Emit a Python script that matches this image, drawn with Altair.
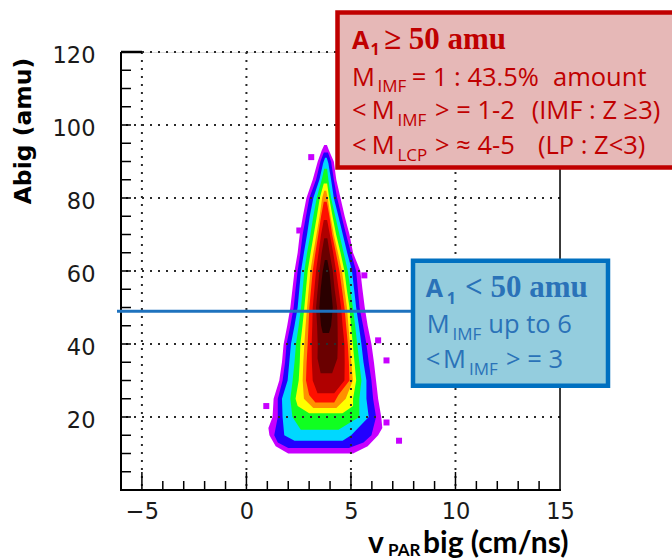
import altair as alt
import pandas as pd

# ---------------- data ----------------
X_DOMAIN = [-6, 15]
Y_DOMAIN = [0, 120]
X_TICK_LABELS = [-5, 0, 5, 10, 15]
Y_TICK_LABELS = [20, 40, 60, 80, 100, 120]
X_GRID = [-5, 0, 5, 10]
Y_GRID = [20, 40, 60, 80, 100, 120]
X_MAJOR_TICKS = [-5, 0, 5, 10]
X_MINOR_TICKS = [-4, -3, -2, -1, 1, 2, 3, 4, 6, 7, 8, 9, 11, 12, 13, 14]
Y_TICKS = [5, 10, 15, 20, 25, 30, 35, 40, 45, 50, 55, 60, 65, 70, 75, 80, 85, 90, 95, 100, 105, 110, 115]
CUT_A = 49

# density contour bands: (Abig, v_left, v_right), outermost first
BAND_MAGENTA = [(10, 2.0, 5.1), (12, 1.4, 5.8), (15, 1.1, 6.3), (17, 1.05, 6.5), (20, 1.25, 6.45),
                (25, 1.3, 6.3), (30, 1.57, 6.2), (35, 1.7, 6.1), (40, 1.78, 5.98), (45, 1.95, 5.8),
                (50, 2.1, 5.66), (55, 2.2, 5.55), (60, 2.3, 5.45), (65, 2.45, 5.1), (70, 2.55, 4.93),
                (75, 2.7, 4.7), (80, 2.87, 4.5), (85, 3.17, 4.3), (90, 3.41, 4.18), (93, 3.6, 3.95),
                (94.5, 3.72, 3.85)]
BAND_BLUE = [(11.5, 2.0, 4.9), (13, 1.5, 5.6), (15, 1.33, 5.98), (20, 1.5, 6.2), (25, 1.5, 6.06),
             (30, 1.73, 5.98), (35, 1.85, 5.85), (40, 1.92, 5.74), (45, 2.1, 5.58), (50, 2.26, 5.41),
             (55, 2.35, 5.33), (60, 2.45, 5.25), (65, 2.58, 5.0), (70, 2.69, 4.77), (75, 2.85, 4.55),
             (80, 3.01, 4.34), (85, 3.33, 4.18), (90, 3.54, 4.05), (92.5, 3.7, 3.9)]
BAND_CYAN = [(13.5, 2.3, 4.6), (15, 1.81, 5.01), (20, 1.73, 5.85), (25, 1.7, 5.74), (30, 1.97, 5.74),
             (35, 2.05, 5.6), (40, 2.13, 5.5), (45, 2.3, 5.38), (50, 2.45, 5.25), (55, 2.53, 5.15),
             (60, 2.61, 5.05), (65, 2.75, 4.82), (70, 2.9, 4.61), (75, 3.03, 4.4), (80, 3.2, 4.18),
             (85, 3.49, 4.05), (89.5, 3.67, 3.92), (91, 3.76, 3.84)]
BAND_GREEN = [(16.5, 2.6, 4.4), (20, 2.2, 5.4), (25, 2.1, 5.4), (30, 2.21, 5.5), (35, 2.3, 5.4),
              (40, 2.37, 5.3), (45, 2.5, 5.2), (50, 2.61, 5.09), (55, 2.69, 4.97), (60, 2.77, 4.85),
              (65, 2.9, 4.65), (70, 3.06, 4.45), (75, 3.2, 4.25), (80, 3.36, 4.05), (85, 3.6, 3.92),
              (88, 3.72, 3.86)]
BAND_YELLOW = [(21, 3.0, 4.6), (23, 2.45, 5.1), (25, 2.35, 5.1), (30, 2.5, 5.25), (35, 2.55, 5.17),
               (40, 2.58, 5.09), (45, 2.68, 5.0), (50, 2.77, 4.93), (55, 2.85, 4.8), (60, 2.93, 4.69),
               (65, 3.07, 4.5), (70, 3.22, 4.29), (75, 3.37, 4.12), (80, 3.51, 3.96), (84, 3.7, 3.86)]
BAND_ORANGE = [(22.5, 3.2, 4.3), (25, 2.75, 4.75), (30, 2.69, 5.09), (35, 2.72, 5.02), (40, 2.77, 4.95),
               (45, 2.83, 4.88), (50, 2.9, 4.81), (55, 2.98, 4.69), (60, 3.06, 4.57), (65, 3.2, 4.38),
               (70, 3.35, 4.18), (75, 3.5, 4.02), (80, 3.62, 3.89), (82, 3.72, 3.82)]
BAND_RED = [(24, 3.3, 4.2), (26, 3.0, 4.4), (30, 2.85, 4.93), (35, 2.88, 4.9), (40, 2.93, 4.85),
            (45, 2.97, 4.77), (50, 3.01, 4.69), (55, 3.09, 4.57), (60, 3.17, 4.45), (65, 3.3, 4.28),
            (70, 3.44, 4.10), (75, 3.57, 3.97), (79, 3.7, 3.84)]
BAND_DARKRED = [(26.5, 3.4, 4.2), (30, 3.17, 4.69), (35, 3.13, 4.7), (40, 3.12, 4.69), (45, 3.15, 4.6),
                (50, 3.17, 4.53), (55, 3.25, 4.41), (60, 3.33, 4.29), (65, 3.45, 4.15), (70, 3.57, 3.99),
                (74, 3.7, 3.86)]
BAND_MAROON = [(32, 3.55, 4.1), (36, 3.4, 4.35), (40, 3.41, 4.37), (45, 3.38, 4.36), (50, 3.33, 4.34),
               (55, 3.41, 4.22), (60, 3.49, 4.13), (65, 3.6, 3.98), (69, 3.72, 3.87)]
BAND_BLACK = [(43, 3.65, 3.95), (45, 3.57, 4.05), (50, 3.49, 4.13), (55, 3.55, 4.05), (60, 3.65, 3.97),
              (63, 3.75, 3.87)]
BAND_COLORS = ["#C800FF", "#2200FF", "#00D8FF", "#10FF20", "#FFFF00", "#FF9000", "#FF1000",
               "#B00000", "#6A0000", "#2A0000"]

OUTLIER_V = [3.1, 2.53, 5.64, 6.3, 6.7, 0.95, 6.7, 7.3]
OUTLIER_A = [91.2, 71.1, 58.8, 41.0, 35.5, 23.0, 18.5, 13.5]

# ---------------- layout ----------------
W, H = 439, 438
L, T = 121, 52
xs = alt.Scale(domain=X_DOMAIN, nice=False, zero=False)
ys = alt.Scale(domain=Y_DOMAIN, nice=False, zero=False)
xaxis = alt.Axis(values=X_TICK_LABELS, ticks=False, domain=False, grid=False, labelFont="DejaVu Sans",
                 labelFontSize=22.5, labelColor="#1a1a1a", labelPadding=10, labelOverlap=False,
                 labelFlush=False, title=None)
yaxis = alt.Axis(values=Y_TICK_LABELS, ticks=False, domain=False, grid=False, labelFont="DejaVu Sans",
                 labelFontSize=22.5, labelColor="#1a1a1a", labelPadding=26, labelOffset=3,
                 labelOverlap=False, labelFlush=False, title=None)

one = pd.DataFrame({"k": [0]})
layers = []


def band(rows, color):
    df = pd.DataFrame(rows, columns=["A", "lo", "hi"])
    return alt.Chart(df).mark_area(orient="horizontal", color=color, opacity=1).encode(
        y=alt.Y("A:Q", scale=ys, axis=yaxis),
        x=alt.X("lo:Q", scale=xs, axis=xaxis),
        x2="hi:Q",
    )


bands = [BAND_MAGENTA, BAND_BLUE, BAND_CYAN, BAND_GREEN, BAND_YELLOW, BAND_ORANGE, BAND_RED,
         BAND_DARKRED, BAND_MAROON, BAND_BLACK]
for rows, col in zip(bands, BAND_COLORS):
    layers.append(band(rows, col))

layers.append(alt.Chart(pd.DataFrame({"v": OUTLIER_V, "A": OUTLIER_A})).mark_square(
    size=36, color=BAND_COLORS[0], opacity=1).encode(
    x=alt.X("v:Q", scale=xs, axis=xaxis), y=alt.Y("A:Q", scale=ys, axis=yaxis)))

# dotted grid (drawn over the histogram)
layers.append(alt.Chart(pd.DataFrame({"v": X_GRID})).mark_rule(
    color="#2a2a2a", strokeWidth=2, strokeDash=[2, 6]).encode(x=alt.X("v:Q", scale=xs, axis=xaxis)))
layers.append(alt.Chart(pd.DataFrame({"A": Y_GRID})).mark_rule(
    color="#2a2a2a", strokeWidth=2, strokeDash=[2, 6]).encode(y=alt.Y("A:Q", scale=ys, axis=yaxis)))

# inward ticks
layers.append(alt.Chart(pd.DataFrame({"v": X_MAJOR_TICKS})).mark_rule(color="black", strokeWidth=1.5).encode(
    x=alt.X("v:Q", scale=xs, axis=xaxis), y=alt.value(H), y2=alt.value(H - 18)))
layers.append(alt.Chart(pd.DataFrame({"v": X_MINOR_TICKS})).mark_rule(color="black", strokeWidth=1.5).encode(
    x=alt.X("v:Q", scale=xs, axis=xaxis), y=alt.value(H), y2=alt.value(H - 9)))
layers.append(alt.Chart(pd.DataFrame({"A": Y_TICKS})).mark_rule(color="black", strokeWidth=1.5).encode(
    y=alt.Y("A:Q", scale=ys, axis=yaxis), x=alt.value(0), x2=alt.value(10)))

# frame
layers.append(alt.Chart(one).mark_rule(color="black", strokeWidth=2).encode(
    x=alt.value(0), y=alt.value(0), y2=alt.value(H + 1)))
layers.append(alt.Chart(one).mark_rule(color="black", strokeWidth=2).encode(
    x=alt.value(-1), x2=alt.value(W + 1), y=alt.value(H)))
layers.append(alt.Chart(one).mark_rule(color="black", strokeWidth=1.5).encode(
    x=alt.value(W), y=alt.value(0), y2=alt.value(H)))
layers.append(alt.Chart(one).mark_rule(color="black", strokeWidth=2.5).encode(
    x=alt.value(0), x2=alt.value(21), y=alt.value(0)))

# cut line A = 50 amu
layers.append(alt.Chart(pd.DataFrame({"A": [CUT_A]})).mark_rule(color="#1E72BE", strokeWidth=3).encode(
    y=alt.Y("A:Q", scale=ys, axis=yaxis), x=alt.value(-4), x2=alt.value(292)))

# annotation boxes
layers.append(alt.Chart(one).mark_rect(fill="#E6B8B7", stroke="#C00000", strokeWidth=4.5).encode(
    x=alt.value(337.5 - L), x2=alt.value(700 - L), y=alt.value(12.5 - T), y2=alt.value(167.5 - T)))
layers.append(alt.Chart(one).mark_rect(fill="#94CDDE", stroke="#0070C0", strokeWidth=4.5).encode(
    x=alt.value(413 - L), x2=alt.value(608 - L), y=alt.value(260.8 - T), y2=alt.value(385.7 - T)))


def txt(s, X, Y, size, color, font="Open Sans", weight="normal", angle=0, align="left", baseline="alphabetic"):
    return alt.Chart(one).mark_text(text=s, font=font, fontSize=size, fontWeight=weight, color=color,
                                    align=align, baseline=baseline, angle=angle).encode(
        x=alt.value(X - L), y=alt.value(Y - T))


RED = "#C00000"
BLUE = "#2A72B8"
SERIF = "Liberation Serif"
BODY = 25.5
SUB = 17
texts = [
    # red box
    txt("A", 352, 49, 25, RED, weight="bold"),
    txt("1", 370.5, 55, 16, RED, weight="bold"),
    txt("≥ 50 amu", 384, 49, 31, RED, font=SERIF, weight="bold"),
    txt("M", 352, 85.5, BODY, RED), txt("IMF", 377.5, 92, SUB, RED),
    txt("= 1 : 43.5%", 411.7, 85.5, BODY, RED), txt("amount", 553, 85.5, BODY, RED),
    txt("<", 352, 119.3, BODY, RED), txt("M", 371.7, 119.3, BODY, RED), txt("IMF", 397.5, 126, SUB, RED),
    txt("> = 1-2", 435, 119.3, BODY, RED), txt("(IMF : Z ≥3)", 531.7, 119.3, BODY, RED),
    txt("<", 352, 154, BODY, RED), txt("M", 371.7, 154, BODY, RED), txt("LCP", 397.5, 161, SUB, RED),
    txt("> ≈ 4-5", 435, 154, BODY, RED), txt("(LP : Z<3)", 538, 154, BODY, RED),
    # blue box
    txt("A", 425.7, 296.7, 25, BLUE, weight="bold"),
    txt("1", 446.7, 304, 16, BLUE, weight="bold"),
    txt("< 50 amu", 465, 296.7, 31, BLUE, font=SERIF, weight="bold"),
    txt("M", 426.7, 333.3, BODY, BLUE), txt("IMF", 452.5, 340, SUB, BLUE),
    txt("up to 6", 488.3, 333.3, BODY, BLUE),
    txt("<", 425.7, 368.3, BODY, BLUE), txt("M", 443, 368.3, BODY, BLUE), txt("IMF", 469, 375, SUB, BLUE),
    txt("> = 3", 506, 368.3, BODY, BLUE),
    # axis titles
    txt("Abig (amu)", 24, 131, 23.5, "black", font="DejaVu Sans", weight="bold", angle=270,
        align="center", baseline="middle"),
    txt("v", 368, 553, 30, "black", font="Lato", weight="bold"),
    txt("PAR", 388, 556, 17, "black", font="Lato", weight="bold"),
    txt("big (cm/ns)", 423, 553, 30, "black", font="Lato", weight="bold"),
]
layers.extend(texts)

chart = alt.layer(*layers).properties(
    width=W, height=H,
    autosize=alt.AutoSizeParams(type="none"),
    padding={"left": L, "top": T, "right": 672 - L - W, "bottom": 560 - T - H},
).configure_view(stroke=None).configure(background="white")

chart.save("out.html", embed_options={"renderer": "svg", "actions": False})
